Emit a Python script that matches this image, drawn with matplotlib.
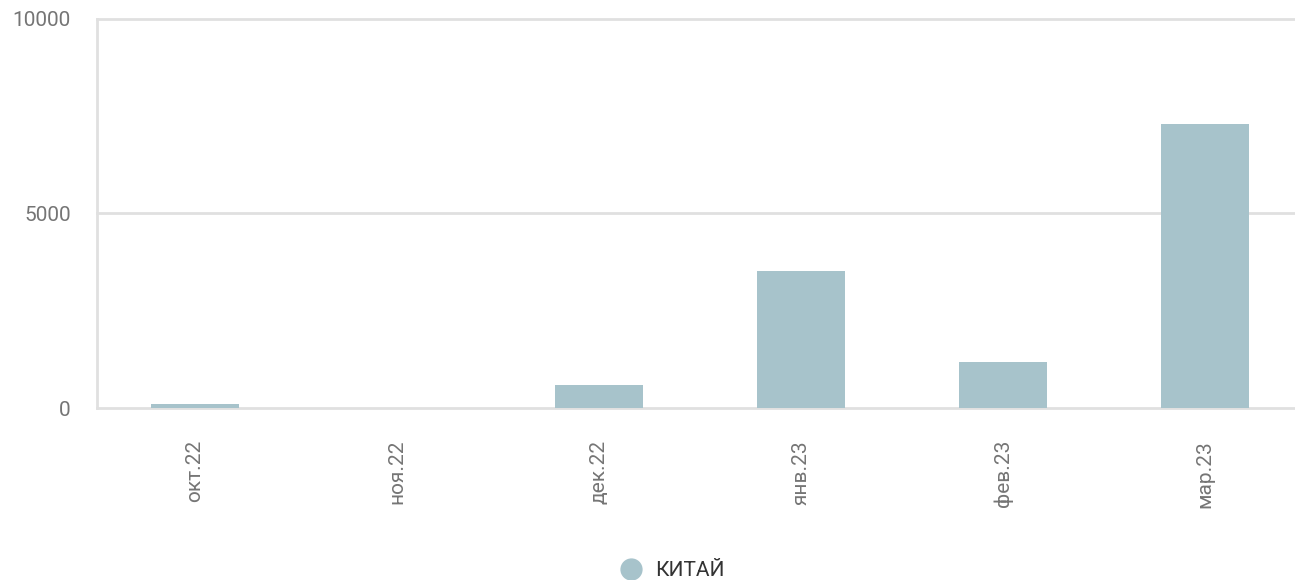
import matplotlib.pyplot as plt
from matplotlib.lines import Line2D

plt.rcParams['font.family'] = ['Roboto', 'DejaVu Sans']

months = ["окт.22", "ноя.22", "дек.22", "янв.23", "фев.23", "мар.23"]
china = [90, 0, 580, 3530, 1190, 7300]
yticks = [0, 5000, 10000]

bar_color = "#a7c3cb"
grid_color = "#e0e0e0"
label_color = "#757575"

fig = plt.figure(figsize=(12.95, 5.8), dpi=100)
ax = fig.add_axes([97 / 1295, 1 - 408 / 580, 1212 / 1295, (408 - 19) / 580])

x = range(len(months))
ax.bar(x, china, width=0.435, color=bar_color, zorder=2)

ax.set_xlim(-0.485, len(months) - 0.485)
ax.set_ylim(0, 10000)
ax.set_yticks(yticks)
ax.set_yticklabels([str(v) for v in yticks])
ax.set_xticks(list(x))
ax.set_xticklabels(months, rotation=90)

for v in yticks:
    ax.axhline(v, color=grid_color, linewidth=2, zorder=1, clip_on=False)

for s in ["top", "right", "bottom"]:
    ax.spines[s].set_visible(False)
ax.spines["left"].set_color(grid_color)
ax.spines["left"].set_linewidth(2)

ax.tick_params(axis="y", length=0, pad=19, labelsize=15, labelcolor=label_color)
ax.tick_params(axis="x", length=0, pad=23, labelsize=15, labelcolor=label_color)

handle = Line2D([], [], marker="o", linestyle="none", markersize=15,
                color=bar_color)
fig.legend([handle], ["КИТАЙ"], loc="center", bbox_to_anchor=(0.5155, 1 - 571 / 580),
           frameon=False, fontsize=15, labelcolor="#333333",
           handletextpad=0.15, borderpad=0)

fig.savefig("out.png", dpi=100)
